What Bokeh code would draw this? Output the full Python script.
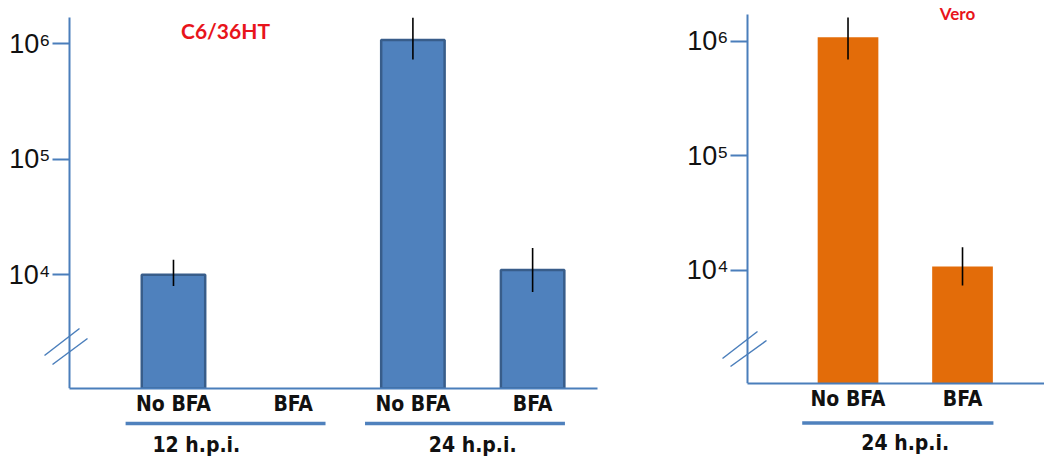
import numpy as np
from bokeh.plotting import figure
from bokeh.models import Range1d, FixedTicker, Label, Arrow, ColumnDataSource
from bokeh.layouts import row, column
from bokeh.core.properties import value
from bokeh.embed import file_html
from bokeh.resources import INLINE

# ---------------- data ----------------
c6_title = "C6/36HT"
c6_groups = ["12 h.p.i.", "12 h.p.i.", "24 h.p.i.", "24 h.p.i."]
c6_treatments = ["No BFA", "BFA", "No BFA", "BFA"]
c6_titer = [1.0e4, np.nan, 1.08e6, 1.1e4]
c6_err_low = [8.0e3, np.nan, 7.3e5, 7.1e3]
c6_err_high = [1.35e4, np.nan, 1.68e6, 1.71e4]

vero_title = "Vero"
vero_groups = ["24 h.p.i.", "24 h.p.i."]
vero_treatments = ["No BFA", "BFA"]
vero_titer = [1.08e6, 1.08e4]
vero_err_low = [6.9e5, 7.4e3]
vero_err_high = [1.61e6, 1.59e4]

y_ticks = [1e4, 1e5, 1e6]
y_tick_labels = ["10\u2074", "10\u2075", "10\u2076"]

AXIS = "#4A7EBB"
CAT_FONT = "DejaVu Sans Condensed, sans-serif"
CAT_SIZE = "21px"


def panel(title, groups, treatments, titer, lo, hi, fill, line, *, width, main_h, sub_h,
          border_right, border_bottom, xr, y_axis_at, yr, ybound_top, title_xy, title_size,
          under_y, glabel_y, break_lines, nudge):
    x_range = Range1d(*xr)
    p = figure(width=width, height=main_h, y_axis_type="log",
               x_range=x_range, y_range=Range1d(*yr),
               output_backend="svg", toolbar_location=None,
               min_border_left=0, min_border_right=border_right,
               min_border_top=0, min_border_bottom=border_bottom)
    p.outline_line_color = None
    p.grid.visible = False

    idx = np.arange(len(treatments))
    t = np.array(titer, dtype=float)
    ok = ~np.isnan(t)
    src = ColumnDataSource(dict(x=idx[ok], top=t[ok],
                                lo=np.array(lo, float)[ok], hi=np.array(hi, float)[ok]))
    p.vbar(x="x", top="top", bottom=yr[0], width=0.53, source=src,
           fill_color=fill, line_color=line, line_width=2.5 if line else 0)
    p.segment(x0="x", y0="lo", x1="x", y1="hi", source=src,
              line_color="black", line_width=1.6)

    # x axis (treatment labels)
    xa = p.xaxis[0]
    xa.ticker = FixedTicker(ticks=list(idx))
    xa.major_label_overrides = {int(i): s for i, s in zip(idx, treatments)}
    xa.bounds = (y_axis_at, xr[1])
    xa.axis_line_color = AXIS
    xa.axis_line_width = 2
    xa.major_tick_line_color = None
    xa.major_tick_out = 0
    xa.major_tick_in = 0
    xa.minor_tick_line_color = None
    xa.major_label_standoff = 3
    xa.major_label_text_font = CAT_FONT
    xa.major_label_text_font_style = "bold"
    xa.major_label_text_font_size = CAT_SIZE
    xa.major_label_text_color = "#111111"

    # y axis (log titer), drawn at a fixed x location inside the plot area
    ya = p.yaxis[0]
    ya.fixed_location = y_axis_at
    ya.ticker = FixedTicker(ticks=y_ticks)
    ya.major_label_overrides = {float(v): s for v, s in zip(y_ticks, y_tick_labels)}
    ya.bounds = (yr[0], ybound_top)
    ya.axis_line_color = AXIS
    ya.axis_line_width = 2
    ya.major_tick_line_color = AXIS
    ya.major_tick_line_width = 2
    ya.major_tick_in = 0
    ya.major_tick_out = 17
    ya.minor_tick_line_color = None
    ya.major_label_standoff = 2
    ya.major_label_text_font = "Liberation Sans"
    ya.major_label_text_font_size = "27px"
    ya.major_label_text_color = "#111111"

    # axis break marks
    for (x0, y0, x1, y1) in break_lines:
        p.add_layout(Arrow(end=None, x_start=x0, y_start=y0, x_end=x1, y_end=y1,
                           start_units="screen", end_units="screen",
                           line_color=AXIS, line_width=1.5))

    p.add_layout(Label(x=title_xy[0], y=title_xy[1], x_units="screen", y_units="screen",
                       text=title, text_align="center", text_baseline="middle",
                       text_font="Lato", text_font_style="bold",
                       text_font_size=title_size, text_color="#E8141B"))

    # strip below: group labels with underline
    s = figure(width=width, height=sub_h, x_range=x_range, y_range=Range1d(0, sub_h),
               output_backend="svg", toolbar_location=None,
               x_axis_location=None, y_axis_location=None,
               min_border_left=0, min_border_right=border_right,
               min_border_top=0, min_border_bottom=0)
    s.outline_line_color = None
    s.grid.visible = False
    ug = []
    for g in groups:
        if g not in ug:
            ug.append(g)
    first = [min(i for i, gg in enumerate(groups) if gg == g) for g in ug]
    last = [max(i for i, gg in enumerate(groups) if gg == g) for g in ug]
    gsrc = ColumnDataSource(dict(
        x0=[f - 0.4 for f in first], x1=[l + 0.27 for l in last],
        xm=[(f + l) / 2 for f, l in zip(first, last)], label=ug,
        dx=[nudge.get(g, 0) for g in ug]))
    s.segment(x0="x0", x1="x1", y0=under_y, y1=under_y, source=gsrc,
              line_color="#4F81BD", line_width=3.5)
    s.text(x="xm", y=glabel_y, text="label", x_offset="dx", source=gsrc,
           text_align="center", text_baseline="top",
           text_font=value(CAT_FONT), text_font_style="bold",
           text_font_size=CAT_SIZE, text_color="#111111")
    return column(p, s)


left = panel(c6_title, c6_groups, c6_treatments, c6_titer, c6_err_low, c6_err_high,
             "#4F81BD", "#385D8A",
             width=620, main_h=420, sub_h=42, border_right=23, border_bottom=32,
             xr=(-1.445, 3.542), y_axis_at=-0.869,
             yr=(10 ** 3.016, 10 ** 6.375), ybound_top=10 ** 6.225,
             title_xy=(225, 358), title_size="21px",
             under_y=39, glabel_y=30,
             break_lines=[(44, 33, 79, 60), (52, 24, 87, 50)],
             nudge={"12 h.p.i.": -37})

right = panel(vero_title, vero_groups, vero_treatments, vero_titer, vero_err_low, vero_err_high,
              "#E36C09", None,
              width=424, main_h=420, sub_h=42, border_right=0, border_bottom=37,
              xr=(-1.987, 1.716), y_axis_at=-0.878,
              yr=(10 ** 3.014, 10 ** 6.354), ybound_top=10 ** 6.233,
              title_xy=(337, 370), title_size="17px",
              under_y=39.5, glabel_y=32,
              break_lines=[(102, 25, 137, 52), (110, 17, 146, 43)],
              nudge={})

layout = row(left, right)
open("out.html", "w").write(file_html(layout, INLINE))
